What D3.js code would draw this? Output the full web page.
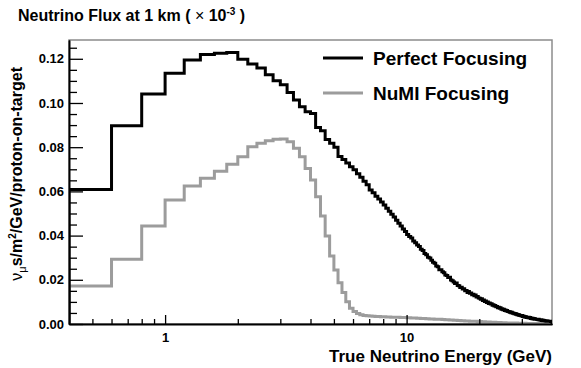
<!DOCTYPE html>
<html lang="en">
<head>
    <meta charset="UTF-8">
    <title>Neutrino Flux at 1 km</title>
    <script src="https://d3js.org/d3.v7.min.js"></script>
    <style>
        body { margin: 0; background: white; }
        svg { display: block; font-family: "Liberation Sans", Arial, Helvetica, sans-serif; }
        .axis text { font-size: 13px; font-weight: bold; fill: black; }
        .axis path, .axis line { stroke: black; }
    </style>
</head>
<body>
    <svg id="chart" width="581" height="368"></svg>

    <script>
        // histogram binning: 0.2 GeV wide bins, shown from 0.4 GeV
        const xRange = [0.4, 40];
        const binWidth = 0.2;
        const yMax = 0.1285;

        const yTicks = [0, 0.02, 0.04, 0.06, 0.08, 0.10, 0.12];
        const xTickLabels = [1, 10];

        const seriesNames = ["Perfect Focusing", "NuMI Focusing"];

        // flux per bin, first bin 0.4-0.6 GeV
        const perfectFlux = [
            0.0609, 0.0897, 0.1041,
            0.1134, 0.1194, 0.1219, 0.1225, 0.1228,
            0.1198, 0.1176, 0.1158, 0.1128, 0.1101,
            0.1083, 0.1047, 0.1014, 0.0983, 0.0960,
            0.0952, 0.0889, 0.0874, 0.0835, 0.0818,
            0.0800, 0.0758, 0.0744, 0.0728, 0.0712,
            0.0698, 0.0680, 0.0664, 0.0646, 0.0630,
            0.0606, 0.0594, 0.0578, 0.0566, 0.0552,
            0.0538, 0.0524, 0.0510, 0.0497, 0.0484,
            0.0470, 0.0456, 0.0443, 0.0430, 0.0418,
            0.0405, 0.0396, 0.0389, 0.0376, 0.0368,
            0.0357, 0.0351, 0.0338, 0.0333, 0.0319,
            0.0313, 0.0302, 0.0299, 0.0288, 0.0279,
            0.0275, 0.0262, 0.0259, 0.0246, 0.0245,
            0.0236, 0.0232, 0.0222, 0.0219, 0.0210,
            0.0211, 0.0199, 0.0196, 0.0190, 0.0183,
            0.0185, 0.0174, 0.0173, 0.0165, 0.0166,
            0.0158, 0.0160, 0.0150, 0.0152, 0.0143,
            0.0147, 0.0139, 0.0140, 0.0132, 0.0135,
            0.0128, 0.0131, 0.0122, 0.0124, 0.0118,
            0.0117, 0.0112, 0.0114, 0.0106, 0.0109,
            0.0102, 0.0104, 0.0097, 0.0100, 0.0093,
            0.0095, 0.0090, 0.0092, 0.0085, 0.0087,
            0.0081, 0.0084, 0.0078, 0.0079, 0.0074,
            0.0076, 0.0071, 0.0073, 0.0067, 0.0069,
            0.0065, 0.0067, 0.0061, 0.0063, 0.0059,
            0.0061, 0.0056, 0.0057, 0.0053, 0.0055,
            0.0051, 0.0053, 0.0049, 0.0050, 0.0046,
            0.0048, 0.0044, 0.0046, 0.0042, 0.0043,
            0.0040, 0.0042, 0.0038, 0.0039, 0.0036,
            0.0038, 0.0034, 0.0036, 0.0032, 0.0034,
            0.0031, 0.0033, 0.0029, 0.0031, 0.0028,
            0.0030, 0.0027, 0.0029, 0.0025, 0.0027,
            0.0024, 0.0026, 0.0023, 0.0025, 0.0022,
            0.0024, 0.0021, 0.0022, 0.0020, 0.0021,
            0.0019, 0.0021, 0.0018, 0.0019, 0.0017,
            0.0019, 0.0016, 0.0018, 0.0015, 0.0017,
            0.0015, 0.0016, 0.0014, 0.0015, 0.0013,
            0.0015, 0.0013, 0.0014, 0.0012, 0.0013,
            0.0012, 0.0013, 0.0011, 0.0012, 0.0011
        ];

        const numiFlux = [
            0.0172, 0.0293, 0.0443,
            0.0561, 0.0624, 0.0659, 0.0691, 0.0723,
            0.0757, 0.0802, 0.0818, 0.0829, 0.0836,
            0.0837, 0.0825, 0.0795, 0.0757, 0.0704,
            0.0652, 0.0576, 0.0489, 0.0398, 0.0308,
            0.0244, 0.0187, 0.0142, 0.0101, 0.0071,
            0.0056, 0.0047, 0.0042, 0.0039, 0.0037,
            0.0036, 0.0035, 0.0034, 0.0034, 0.0033,
            0.0033, 0.0032, 0.0032, 0.0031, 0.0031,
            0.0030, 0.0030, 0.0029, 0.0029, 0.0029,
            0.0028, 0.0028, 0.0027, 0.0027, 0.0027,
            0.0026, 0.0026, 0.0025, 0.0025, 0.0025,
            0.0024, 0.0024, 0.0023, 0.0023, 0.0023,
            0.0022, 0.0022, 0.0021, 0.0021, 0.0021,
            0.0020, 0.0020, 0.0019, 0.0019, 0.0019,
            0.0018, 0.0018, 0.0018, 0.0017, 0.0017,
            0.0017, 0.0016, 0.0016, 0.0016, 0.0015,
            0.0015, 0.0015, 0.0014, 0.0014, 0.0014,
            0.0014, 0.0013, 0.0013, 0.0013, 0.0012,
            0.0012, 0.0012, 0.0012, 0.0011, 0.0011,
            0.0011, 0.0011, 0.0010, 0.0010, 0.0010,
            0.0010, 0.0009, 0.0009, 0.0009, 0.0009,
            0.0009, 0.0008, 0.0008, 0.0008, 0.0008,
            0.0008, 0.0008, 0.0007, 0.0007, 0.0007,
            0.0007, 0.0007, 0.0007, 0.0006, 0.0006,
            0.0006, 0.0006, 0.0006, 0.0006, 0.0005,
            0.0005, 0.0005, 0.0005, 0.0005, 0.0005,
            0.0005, 0.0004, 0.0004, 0.0004, 0.0004,
            0.0004, 0.0004, 0.0004, 0.0004, 0.0003,
            0.0003, 0.0003, 0.0003, 0.0003, 0.0003,
            0.0003, 0.0003, 0.0003, 0.0003, 0.0003,
            0.0003, 0.0002, 0.0002, 0.0002, 0.0002,
            0.0002, 0.0002, 0.0002, 0.0002, 0.0002,
            0.0002, 0.0002, 0.0002, 0.0002, 0.0002,
            0.0002, 0.0002, 0.0002, 0.0002, 0.0002,
            0.0002, 0.0002, 0.0001, 0.0001, 0.0001,
            0.0001, 0.0001, 0.0001, 0.0001, 0.0001,
            0.0001, 0.0001, 0.0001, 0.0001, 0.0001,
            0.0001, 0.0001, 0.0001, 0.0001, 0.0001,
            0.0001, 0.0001, 0.0001, 0.0001, 0.0001
        ];

        var margin = {top: 40, right: 29, bottom: 44, left: 69},
            width = 581 - margin.left - margin.right,
            height = 368 - margin.top - margin.bottom;

        var svg = d3.select("#chart");

        var x = d3.scaleLog().domain(xRange).range([margin.left, margin.left + width]);
        var y = d3.scaleLinear().domain([0, yMax]).range([margin.top + height, margin.top]);

        svg.append("clipPath").attr("id", "plotClip")
            .append("rect")
            .attr("x", margin.left).attr("y", margin.top)
            .attr("width", width).attr("height", height);

        // frame
        svg.append("rect")
            .attr("x", margin.left).attr("y", margin.top)
            .attr("width", width).attr("height", height)
            .attr("fill", "none")
            .attr("stroke", "#8c8c8c")
            .attr("stroke-width", 1.5);

        // histogram outline, ROOT style: start and end on the baseline
        function histPath(values) {
            var pts = [[x(xRange[0]), y(0)]];
            values.forEach(function(v, i) {
                var lo = xRange[0] + i * binWidth, hi = lo + binWidth;
                pts.push([x(lo), y(v)]);
                pts.push([x(hi), y(v)]);
            });
            pts.push([x(xRange[0] + values.length * binWidth), y(0)]);
            return d3.line()(pts);
        }

        var plot = svg.append("g").attr("clip-path", "url(#plotClip)");

        plot.append("path")
            .attr("d", histPath(numiFlux))
            .attr("fill", "none")
            .attr("stroke", "#9c9c9c")
            .attr("stroke-width", 3)
            .attr("stroke-linejoin", "miter");

        plot.append("path")
            .attr("d", histPath(perfectFlux))
            .attr("fill", "none")
            .attr("stroke", "black")
            .attr("stroke-width", 3)
            .attr("stroke-linejoin", "miter");

        // y axis: major + minor ticks inside the frame
        var yMinor = d3.range(0, yMax, 0.005).filter(v => Math.abs(v / 0.02 - Math.round(v / 0.02)) > 1e-6);
        svg.append("g")
            .attr("class", "axis")
            .attr("transform", "translate(" + margin.left + ",0)")
            .call(d3.axisLeft(y).tickSizeOuter(0).tickSizeInner(-8).tickValues(yMinor).tickFormat(""));
        var yAxis = svg.append("g")
            .attr("class", "axis")
            .attr("transform", "translate(" + margin.left + ",0)")
            .call(d3.axisLeft(y).tickValues(yTicks).tickSizeOuter(0).tickSizeInner(-14).tickPadding(5)
                .tickFormat(d3.format(".2f")));
        yAxis.select(".domain").attr("stroke-width", 2);

        // x axis: log, labels only at decades
        var xMinor = [];
        [0.1, 1, 10].forEach(function(dec) {
            for (var k = 2; k <= 9; k++) {
                var v = k * dec;
                if (v > xRange[0] && v < xRange[1]) xMinor.push(v);
            }
        });
        svg.append("g")
            .attr("class", "axis")
            .attr("transform", "translate(0," + (margin.top + height) + ")")
            .call(d3.axisBottom(x).tickValues(xMinor).tickSizeOuter(0).tickSizeInner(-5).tickFormat(""));
        var xAxis = svg.append("g")
            .attr("class", "axis")
            .attr("transform", "translate(0," + (margin.top + height) + ")")
            .call(d3.axisBottom(x).tickValues(xTickLabels).tickSizeOuter(0).tickSizeInner(-9).tickPadding(9)
                .tickFormat(d3.format("d")));
        xAxis.select(".domain").attr("stroke-width", 2);
        svg.selectAll(".axis line").attr("stroke-width", 1.3);

        // title
        var title = svg.append("text")
            .attr("x", 18).attr("y", 21)
            .attr("font-size", 16).attr("font-weight", "bold");
        title.append("tspan").text("Neutrino Flux at 1 km ( ");
        title.append("tspan").attr("font-weight", "normal").text("\u00d7");
        title.append("tspan").text(" 10");
        title.append("tspan").attr("font-size", 10).attr("dy", -6).text("-3");
        title.append("tspan").attr("dy", 6).text(" )");

        // x axis title
        svg.append("text")
            .attr("x", margin.left + width).attr("y", 362)
            .attr("text-anchor", "end")
            .attr("font-size", 17).attr("font-weight", "bold")
            .text("True Neutrino Energy (GeV)");

        // y axis title
        var ytitle = svg.append("text")
            .attr("transform", "translate(22,67) rotate(-90)")
            .attr("text-anchor", "end")
            .attr("font-size", 16).attr("font-weight", "bold");
        ytitle.append("tspan").attr("font-weight", "normal").text("\u03bd");
        ytitle.append("tspan").attr("font-weight", "normal").attr("font-size", 11).attr("dy", 4).text("\u03bc");
        ytitle.append("tspan").attr("dy", -4).text("s/m");
        ytitle.append("tspan").attr("font-size", 10).attr("dy", -6).text("2");
        ytitle.append("tspan").attr("dy", 6).text("/GeV/proton-on-target");

        // legend
        var legendColors = ["black", "#9c9c9c"];
        var legend = svg.append("g");
        seriesNames.forEach(function(name, i) {
            var ly = 58 + i * 35;
            legend.append("line")
                .attr("x1", 323).attr("x2", 363)
                .attr("y1", ly).attr("y2", ly)
                .attr("stroke", legendColors[i])
                .attr("stroke-width", 3);
            legend.append("text")
                .attr("x", 373).attr("y", ly + 7)
                .attr("font-size", 19).attr("font-weight", "bold")
                .text(name);
        });
    </script>
</body>
</html>
